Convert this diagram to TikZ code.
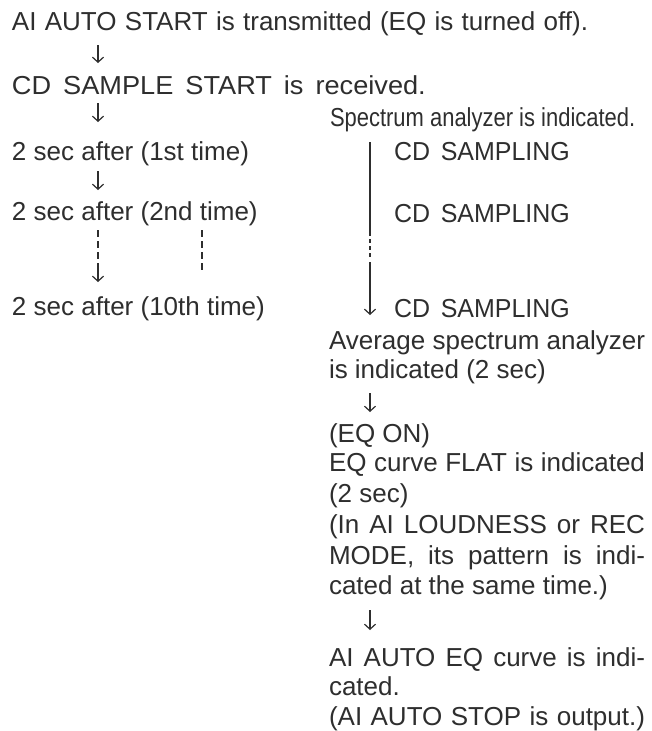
\documentclass[tikz,border=0pt]{standalone}
\usepackage{fontspec}
\setmainfont{Liberation Sans}
\usepackage{graphicx}
\usetikzlibrary{arrows.meta}
\definecolor{ink}{HTML}{2E2E2E}
\begin{document}
\begin{tikzpicture}[x=1pt,y=-1pt,
  txt/.style={anchor=base west,inner sep=0pt,outer sep=0pt,text=ink,font=\fontsize{26}{30}\selectfont},
  garrow/.style={draw=ink,line width=1.2pt,-{Straight Barb[length=5pt,width=11pt,line width=1.2pt]}},
  gline/.style={draw=ink,line width=1.3pt},
  gdash/.style={draw=ink,line width=1.2pt,dash pattern=on 7pt off 4pt},
  rdash/.style={draw=ink,line width=1.3pt,dash pattern=on 4pt off 3pt}]
\useasboundingbox (0,0) rectangle (651,731);
\fill[white] (0,0) rectangle (651,731);
% left column
\node[txt] (l1) at (12,30) {\makebox[576pt][s]{AI AUTO START is transmitted (EQ is turned off).}};
\node[txt] (l2) at (12,94) {\scalebox{1.045}[1]{\makebox[396pt][s]{CD SAMPLE START is received.}}};
\node[txt] (l3) at (12,160) {2 sec after (1st time)};
\node[txt] (l4) at (12,220) {2 sec after (2nd time)};
\node[txt] (l5) at (12,315) {2 sec after (10th time)};
% spectrum + sampling
\node[txt] (s1) at (330,126) {\scalebox{0.845}[1]{Spectrum analyzer is indicated.}};
\node[txt] (c1) at (394,160) {\scalebox{0.96}[1]{CD\hspace{4pt} SAMPLING}};
\node[txt] (c2) at (394,222) {\scalebox{0.96}[1]{CD\hspace{4pt} SAMPLING}};
\node[txt] (c3) at (394,317) {\scalebox{0.96}[1]{CD\hspace{4pt} SAMPLING}};
% right column
\node[txt] (r1) at (329,349) {\makebox[316pt][s]{Average spectrum analyzer}};
\node[txt] (r2) at (329,378) {is indicated (2 sec)};
\node[txt] (r3) at (329,442) {(EQ ON)};
\node[txt] (r4) at (329,471) {\makebox[316pt][s]{EQ curve FLAT is indicated}};
\node[txt] (r5) at (329,502) {(2 sec)};
\node[txt] (r6) at (329,533) {\makebox[316pt][s]{(In AI LOUDNESS or REC}};
\node[txt] (r7) at (329,564) {\makebox[316pt][s]{MODE, its pattern is indi-}};
\node[txt] (r8) at (329,594) {cated at the same time.)};
\node[txt] (r9) at (329,666) {\makebox[316pt][s]{AI AUTO EQ curve is indi-}};
\node[txt] (r10) at (329,695) {cated.};
\node[txt] (r11) at (329,725) {\makebox[316pt][s]{(AI AUTO STOP is output.)}};
% arrow coordinates
\coordinate (a1s) at (98,45);  \coordinate (a1e) at (98,63);
\coordinate (a2s) at (98,103); \coordinate (a2e) at (98,122);
\coordinate (a3s) at (98,171); \coordinate (a3e) at (98,190);
\coordinate (a4s) at (98,230); \coordinate (a4m) at (98,263); \coordinate (a4e) at (98,282);
\coordinate (d2s) at (202,230); \coordinate (d2e) at (202,272);
\coordinate (v1) at (370,142); \coordinate (v2) at (370,236);
\coordinate (v3) at (370,259); \coordinate (v4) at (370,262); \coordinate (v5) at (370,315);
\coordinate (b1s) at (370,393); \coordinate (b1e) at (370,412);
\coordinate (b2s) at (370,610); \coordinate (b2e) at (370,630);
% arrows
\draw[garrow] (a1s) -- (a1e);
\draw[garrow] (a2s) -- (a2e);
\draw[garrow] (a3s) -- (a3e);
\draw[gdash] (a4s) -- (a4m);
\draw[garrow] (a4m) -- (a4e);
\draw[gdash] (d2s) -- (d2e);
\draw[gline] (v1) -- (v2);
\draw[rdash] (v2) ++(0,3) -- (v3);
\draw[garrow] (v4) -- (v5);
\draw[garrow] (b1s) -- (b1e);
\draw[garrow] (b2s) -- (b2e);
\end{tikzpicture}
\end{document}
